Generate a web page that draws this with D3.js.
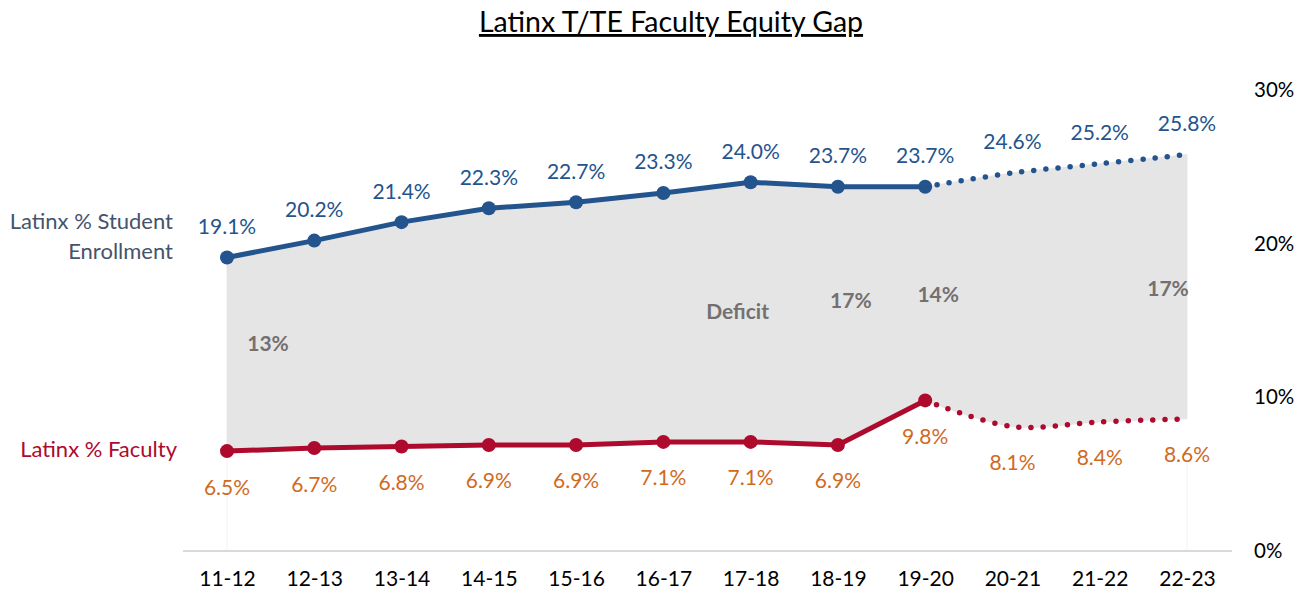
<!DOCTYPE html>
<html><head><meta charset="utf-8">
<script src="https://cdn.jsdelivr.net/npm/d3@7"></script>
<style>
body{margin:0;background:#fff;}
svg{font-family:Lato,"Open Sans",sans-serif;}
</style></head>
<body><svg id="c" width="1309" height="594"></svg>
<script>
const categories = ["11-12","12-13","13-14","14-15","15-16","16-17","17-18","18-19","19-20","20-21","21-22","22-23"];
const studentPct = [19.1,20.2,21.4,22.3,22.7,23.3,24.0,23.7,23.7,24.6,25.2,25.8];
const facultyPct = [6.5,6.7,6.8,6.9,6.9,7.1,7.1,6.9,9.8,8.1,8.4,8.6];
const actualCount = 9; // 11-12 .. 19-20 are actual, rest projected
const yTicks = [0,10,20,30];
const gapLabels = [
  {cat:"11-12", text:"13%", dx:41, val:13.0},
  {cat:"17-18", text:"Deficit", dx:-13, val:15.1},
  {cat:"18-19", text:"17%", dx:13, val:15.8},
  {cat:"19-20", text:"14%", dx:13, val:16.2},
  {cat:"22-23", text:"17%", dx:-19, val:16.6}
];

const svg = d3.select("#c");
const x = d3.scalePoint().domain(categories).range([227,1187]);
const y = d3.scaleLinear().domain([0,30]).range([551,90]);

const blue = "#23548e", red = "#ad0a2d", orange = "#d06a1f", gray = "#757070";
const FONT = "Lato,'Open Sans',sans-serif";

// title
svg.append("text").attr("x",671).attr("y",32).attr("text-anchor","middle")
  .attr("font-size",28.5).attr("fill","#000").style("text-decoration","underline")
  .text("Latinx T/TE Faculty Equity Gap");

const pts = categories.map((c,i)=>({c, s:studentPct[i], f:facultyPct[i], i}));
const actual = pts.slice(0,actualCount);
const proj = pts.slice(actualCount-1);

// area
const areaLin = d3.area().x(d=>x(d.c)).y0(d=>y(d.f)).y1(d=>y(d.s)).curve(d3.curveLinear);
const areaCur = d3.area().x(d=>x(d.c)).y0(d=>y(d.f)).y1(d=>y(d.s)).curve(d3.curveCatmullRom);
svg.append("path").attr("d",areaLin(actual)).attr("fill","#e5e5e5").attr("stroke","#e5e5e5").attr("stroke-width",0.8);
svg.append("path").attr("d",areaCur(proj)).attr("fill","#e5e5e5").attr("stroke","#e5e5e5").attr("stroke-width",0.8);

// faint drop lines
[categories[0], categories[categories.length-1]].forEach(c=>{
  svg.append("line").attr("x1",x(c)).attr("x2",x(c)).attr("y1",y(0)).attr("y2",y(6)).attr("stroke","#f2f2f2").attr("stroke-width",1);
});

// x axis line
svg.append("line").attr("x1",183).attr("x2",1232).attr("y1",y(0)).attr("y2",y(0)).attr("stroke","#d9d9d9").attr("stroke-width",2);

// x axis
const xAxis = svg.append("g").attr("transform",`translate(0,${y(0)})`)
  .call(d3.axisBottom(x).tickSize(0).tickPadding(20));
xAxis.select(".domain").remove();
xAxis.selectAll("text").attr("font-size",21).attr("fill","#000").attr("font-family",FONT);

// right axis
const yAxis = svg.append("g").attr("transform","translate(1254,0)")
  .call(d3.axisRight(y).tickValues(yTicks).tickSize(0).tickPadding(0).tickFormat(d=>d+"%"));
yAxis.select(".domain").remove();
yAxis.selectAll("text").attr("font-size",20.5).attr("fill","#000").attr("font-family",FONT);

// lines
const lineLin = (key)=>d3.line().x(d=>x(d.c)).y(d=>y(d[key])).curve(d3.curveLinear);
const lineCur = (key)=>d3.line().x(d=>x(d.c)).y(d=>y(d[key])).curve(d3.curveCatmullRom);

[["s",blue],["f",red]].forEach(([k,col])=>{
  svg.append("path").attr("d",lineLin(k)(actual)).attr("fill","none").attr("stroke",col).attr("stroke-width",5).attr("stroke-linejoin","round");
  svg.append("path").attr("d",lineCur(k)(proj)).attr("fill","none").attr("stroke",col).attr("stroke-width",5.5)
    .attr("stroke-linecap","round").attr("stroke-dasharray","0 12.2");
  svg.selectAll(null).data(actual).enter().append("circle")
    .attr("cx",d=>x(d.c)).attr("cy",d=>y(d[k])).attr("r",7).attr("fill",col);
});

// value labels
svg.selectAll(null).data(pts).enter().append("text")
  .attr("x",d=>x(d.c)).attr("y",d=>y(d.s)-23.5).attr("text-anchor","middle")
  .attr("font-size",21).attr("fill",blue).text(d=>d.s.toFixed(1)+"%");
svg.selectAll(null).data(pts).enter().append("text")
  .attr("x",d=>x(d.c)).attr("y",d=>y(d.f)+43.5).attr("text-anchor","middle")
  .attr("font-size",21).attr("fill",orange).text(d=>d.f.toFixed(1)+"%");

// gap labels
svg.selectAll(null).data(gapLabels).enter().append("text")
  .attr("x",d=>x(d.cat)+d.dx).attr("y",d=>y(d.val)).attr("text-anchor","middle")
  .attr("font-size",21).attr("font-weight","bold").attr("fill",gray).text(d=>d.text);

// series labels
const sl = svg.append("text").attr("text-anchor","end").attr("font-size",22).attr("fill","#44546a");
sl.append("tspan").attr("x",173).attr("y",229).text("Latinx % Student");
sl.append("tspan").attr("x",173).attr("y",259).text("Enrollment");
svg.append("text").attr("x",177).attr("y",457).attr("text-anchor","end").attr("font-size",22)
  .attr("fill",red).text("Latinx % Faculty");
</script></body></html>
